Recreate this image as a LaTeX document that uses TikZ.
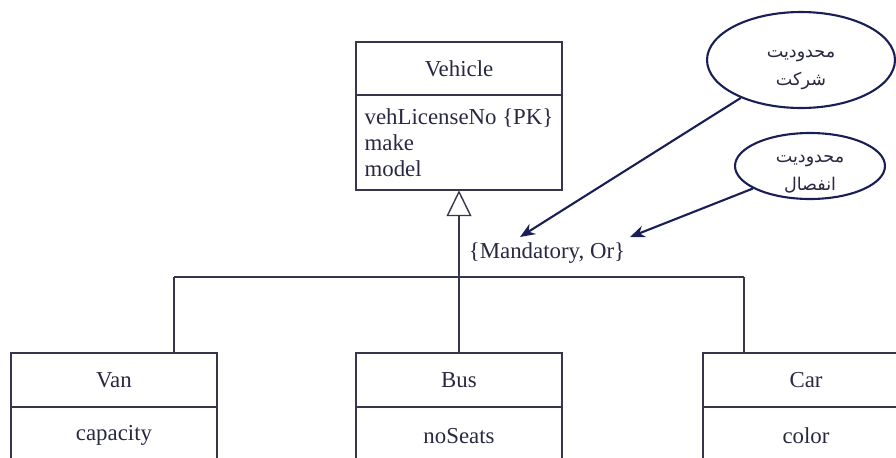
\documentclass[tikz,border=0pt]{standalone}
\usepackage{fontspec}
\setmainfont{Liberation Serif}
\newfontfamily\arabicfont[Script=Arabic]{DejaVu Sans}
\TeXXeTstate=1
\usepackage{tikz}
\usetikzlibrary{arrows.meta,positioning,shapes.geometric}
\usepackage{xcolor}
\definecolor{umlline}{RGB}{55,55,75}
\definecolor{umltext}{RGB}{40,40,65}
\definecolor{notenavy}{RGB}{25,30,85}

\begin{document}
\begin{tikzpicture}[
    x=0.02cm, y=-0.02cm,
    font=\fontsize{13}{14.8}\selectfont, text=umltext,
    clshead/.style={rectangle, draw=umlline, line width=0.9pt, outer sep=0pt,
        inner sep=0pt, minimum width=4.12cm, minimum height=1.07cm},
    clsbody/.style={rectangle, draw=umlline, line width=0.9pt, outer sep=0pt,
        inner sep=0pt, minimum width=4.12cm, minimum height=1.16cm},
    noteellipse/.style={ellipse, draw=notenavy, line width=1.2pt, inner sep=0pt},
    notetext/.style={align=center, font=\arabicfont\fontsize{10}{16}\selectfont},
    genline/.style={draw=umlline, line width=0.8pt},
    note/.style={-{Stealth[length=3mm, width=2.4mm]}, line width=1.2pt, notenavy}
]
\clip (0,0) rectangle (896,457);

% Superclass
\node[clshead] (vehhead) at (459,68.5) {Vehicle};
\node[clsbody, minimum height=1.9cm, align=left, below=0pt of vehhead] (vehbody)
    {vehLicenseNo \{PK\}\\make\\model};

% Subclasses
\node[clshead] (vanhead) at (114,380) {Van};
\node[clsbody, below=0pt of vanhead] (vanbody) {capacity};
\node[clshead] (bushead) at (459,380) {Bus};
\node[clsbody, below=0pt of bushead] (busbody) {noSeats};
\node[clshead] (carhead) at (806,380) {Car};
\node[clsbody, below=0pt of carhead] (carbody) {color};

% Generalization
\coordinate (leftend) at (174,277);
\coordinate (rightend) at (744,277);
\draw[genline] (leftend) -- (rightend);
\draw[genline] (leftend) -- (leftend |- vanhead.north);
\draw[genline] (rightend) -- (rightend |- carhead.north);
\draw[genline, -{Triangle[open, length=0.52cm, width=0.5cm]}] (bushead.north) -- (vehbody.south);

\node (constr) at (547,253) {\{Mandatory, Or\}};

% Constraint notes
\node[noteellipse, minimum width=3.76cm, minimum height=1.92cm] (partic) at (801,60) {};
\node[notetext] (partictext) at (801,70) {\beginR محدودیت\endR\\\beginR شرکت\endR};
\node[noteellipse, minimum width=3.0cm, minimum height=1.32cm] (disjoint) at (810,166) {};
\node[notetext] (disjointtext) at (810,174) {\beginR محدودیت\endR\\\beginR انفصال\endR};

\coordinate (particend) at (520,237);
\coordinate (disjointend) at (630,237);
\draw[note] (partic) -- (particend);
\draw[note] (disjoint) -- (disjointend);

\end{tikzpicture}
\end{document}
